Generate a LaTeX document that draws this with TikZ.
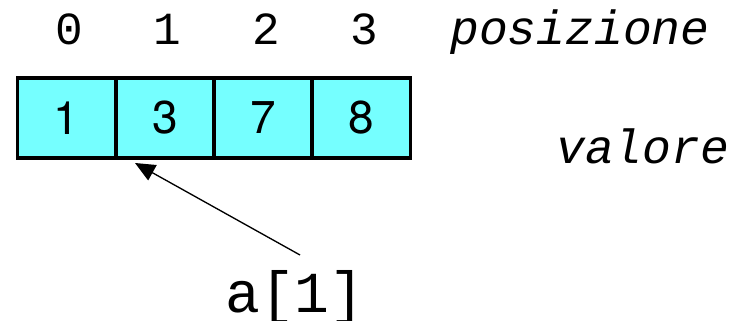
\documentclass[tikz,border=0pt]{standalone}
\usepackage{fontspec}
\newfontfamily\cellfont{TeX Gyre Heros}
\newfontfamily\codefont{Liberation Mono}
\usepackage{tikz}
\usetikzlibrary{arrows.meta}
\definecolor{cellcyan}{RGB}{117,255,255}

\begin{document}
\begin{tikzpicture}[x=0.75pt,y=0.75pt,yscale=-1,xscale=1,
  cell/.style={draw,fill=cellcyan,line width=2.8pt,minimum width=73.7pt,minimum height=60pt,inner sep=0pt,font=\cellfont\fontsize{34.5}{40}\selectfont},
  idx/.style={anchor=base,inner sep=0pt,font=\codefont\fontsize{34.5}{40}\selectfont},
  lbl/.style={anchor=base west,inner sep=0pt,font=\codefont\itshape\fontsize{36}{42}\selectfont}]
\useasboundingbox (0,0) rectangle (729,321);

%Shape: Array cells
\node [cell] (c0) at (66.6,118) {1};
\node [cell] (c1) at (164.9,118) {3};
\node [cell] (c2) at (263.1,118) {7};
\node [cell] (c3) at (361.4,118) {8};

% Text Node
\node [idx] (i0) at (69.5,45) {0};
% Text Node
\node [idx] (i1) at (167,45) {1};
% Text Node
\node [idx] (i2) at (266,45) {2};
% Text Node
\node [idx] (i3) at (364,45) {3};
% Text Node
\node [lbl] (pos) at (450,45) {posizione};
% Text Node
\node [lbl] (val) at (556,163) {valore};
% Text Node
\node [idx,font=\codefont\fontsize{43.5}{50}\selectfont] (aidx) at (295,312) {a[1]};

%Straight Lines
\coordinate (tail) at (300,255);
\coordinate (tip) at (135,163);
\draw [line width=1pt,-{Triangle[length=15pt,width=13pt]}] (tail) -- (tip);

\end{tikzpicture}
\end{document}
